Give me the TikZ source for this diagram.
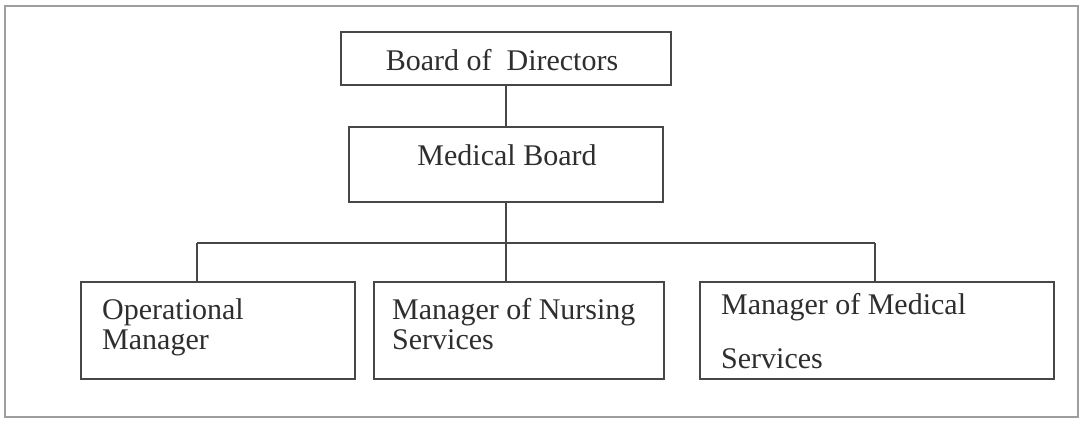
\documentclass[tikz,border=0pt]{standalone}
\usepackage{fontspec}
\setmainfont{Liberation Serif}
\begin{document}
\begin{tikzpicture}[x=1pt,y=-1pt,
  frameline/.style={draw=black!38,line width=1.4pt},
  orgbox/.style={draw=black!72,line width=2pt,rectangle,inner sep=0pt},
  link/.style={draw=black!72,line width=2pt},
  lbl/.style={text=black!82,inner sep=0pt,font=\fontsize{30}{31}\selectfont}]
  \useasboundingbox (0,0) rectangle (1081,423);
  \fill[white] (0,0) rectangle (1081,423);
  % outer frame
  \draw[frameline] (5,6) rectangle (1078,417);

  % boxes
  \node[orgbox,minimum width=330pt,minimum height=53pt] (bod) at (506,58.5) {};
  \node[orgbox,minimum width=314pt,minimum height=75pt] (mb) at (506,164.5) {};
  \node[orgbox,minimum width=274pt,minimum height=97pt] (op) at (218,330.5) {};
  \node[orgbox,minimum width=290pt,minimum height=97pt] (nurse) at (519,330.5) {};
  \node[orgbox,minimum width=354pt,minimum height=97pt] (med) at (877,330.5) {};

  % box texts
  \node[lbl,anchor=base] (bodt) at (502,70) {Board of\ \ Directors};
  \node[lbl,anchor=base] (mbt) at (507,165) {Medical Board};
  \node[lbl,anchor=base west] (opa) at (102,319) {Operational};
  \node[lbl,anchor=base west] (opb) at (102,349) {Manager};
  \node[lbl,anchor=base west] (nua) at (392,319) {Manager of Nursing};
  \node[lbl,anchor=base west] (nub) at (392,349) {Services};
  \node[lbl,anchor=base west] (mea) at (721,314) {Manager of Medical};
  \node[lbl,anchor=base west] (meb) at (721,368) {Services};

  % connectors
  \coordinate (busL) at (197,243);
  \coordinate (busR) at (875,243);
  \draw[link] (bod.south) -- (mb.north);
  \draw[link] (mb.south) -- (mb.south |- nurse.north);
  \draw[link] (busL) -- (busR);
  \draw[link] (busL) -- (busL |- op.north);
  \draw[link] (busR) -- (busR |- med.north);
\end{tikzpicture}
\end{document}
